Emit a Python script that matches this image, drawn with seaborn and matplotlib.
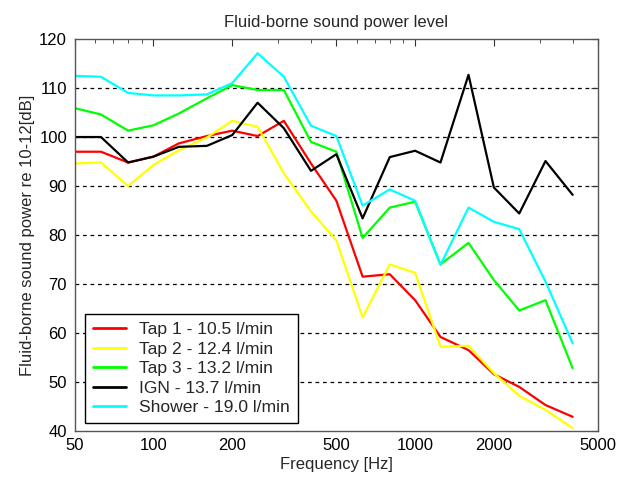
import numpy as np
import pandas as pd
import matplotlib
matplotlib.use("Agg")
import matplotlib.pyplot as plt
import matplotlib.ticker as mticker
import seaborn as sns

freqs = [50, 63, 80, 100, 125, 160, 200, 250, 315, 400, 500, 630, 800, 1000,
         1250, 1600, 2000, 2500, 3150, 4000]

tap1 = [97.0, 97.0, 94.8, 96.0, 98.7, 100.2, 101.3, 100.2, 103.3, 94.6, 87.0,
        71.5, 72.0, 66.7, 59.2, 56.5, 51.6, 49.0, 45.3, 42.9]
tap2 = [94.6, 94.8, 90.0, 94.3, 97.3, 99.9, 103.3, 102.1, 92.6, 84.8, 78.9,
        63.2, 74.0, 72.3, 57.2, 57.4, 51.8, 47.2, 44.3, 40.6]
tap3 = [105.9, 104.6, 101.3, 102.4, 104.8, 107.9, 110.6, 109.6, 109.6, 99.0, 97.0,
        79.4, 85.6, 86.8, 74.0, 78.4, 70.8, 64.6, 66.7, 52.8]
ign = [100.0, 100.0, 94.8, 96.0, 98.0, 98.2, 100.4, 107.0, 101.8, 93.1, 96.5,
       83.4, 95.9, 97.2, 94.8, 112.7, 89.7, 84.4, 95.1, 88.2]
shower = [112.5, 112.3, 109.0, 108.5, 108.5, 108.7, 111.0, 117.1, 112.3, 102.3, 100.2,
          86.0, 89.3, 87.0, 73.9, 85.6, 82.7, 81.2, 70.5, 57.9]

labels = ["Tap 1 - 10.5 l/min", "Tap 2 - 12.4 l/min", "Tap 3 - 13.2 l/min",
          "IGN - 13.7 l/min", "Shower - 19.0 l/min"]
colors = ["#ff0000", "#ffff00", "#00ff00", "#000000", "#00ffff"]

series = [tap1, tap2, tap3, ign, shower]
df = pd.concat([pd.DataFrame({"Frequency": freqs, "Level": s, "Source": lab})
                for s, lab in zip(series, labels)], ignore_index=True)

sns.set_style("white")
plt.rcParams["font.family"] = ["Liberation Sans", "DejaVu Sans"]

FS = 12

fig = plt.figure(figsize=(6.31, 4.82), dpi=100)
ax = fig.add_axes([0.1184, 0.1058, 0.8293, 0.8132])

sns.lineplot(data=df, x="Frequency", y="Level", hue="Source", palette=colors,
             hue_order=labels, linewidth=1.6, ax=ax, legend=True)

ax.set_xscale("log")
ax.set_xlim(50, 5000)
ax.set_ylim(40, 120)
ax.set_yticks(np.arange(40, 121, 10))
ax.set_xticks([50, 100, 200, 500, 1000, 2000, 5000])
ax.xaxis.set_major_formatter(mticker.FuncFormatter(lambda v, p: f"{int(round(v))}"))
ax.xaxis.set_minor_locator(mticker.LogLocator(base=10, subs=np.arange(2, 10), numticks=20))
ax.xaxis.set_minor_formatter(mticker.NullFormatter())

for y in range(50, 120, 10):
    ax.axhline(y, color="black", linestyle=(0, (3, 3)), linewidth=0.9, zorder=0)

ax.tick_params(axis="both", which="both", direction="in", top=True, right=True,
               labelsize=FS, colors="#333333", labelcolor="black")
ax.tick_params(which="major", length=5)
ax.tick_params(which="minor", length=3)
ax.tick_params(axis="x", pad=5)
ax.tick_params(axis="y", pad=5.5)
for sp in ax.spines.values():
    sp.set_color("#555555")
    sp.set_linewidth(1.0)

ax.set_title("Fluid-borne sound power level", fontsize=FS, pad=9)
ax.set_xlabel("Frequency [Hz]", fontsize=FS, labelpad=3)
ax.set_ylabel("Fluid-borne sound power re 10-12[dB]", fontsize=FS, labelpad=3)

leg = ax.legend(loc="lower left", bbox_to_anchor=(0.0197, 0.0204), borderaxespad=0,
                fontsize=12.6, frameon=True, fancybox=False, edgecolor="black",
                framealpha=1, handlelength=1.9, handletextpad=0.75, borderpad=0.45,
                labelspacing=0.24, title=None)
leg.get_frame().set_linewidth(1.0)
for line in leg.get_lines():
    line.set_linewidth(2.0)

fig.savefig("out.png", dpi=100)
